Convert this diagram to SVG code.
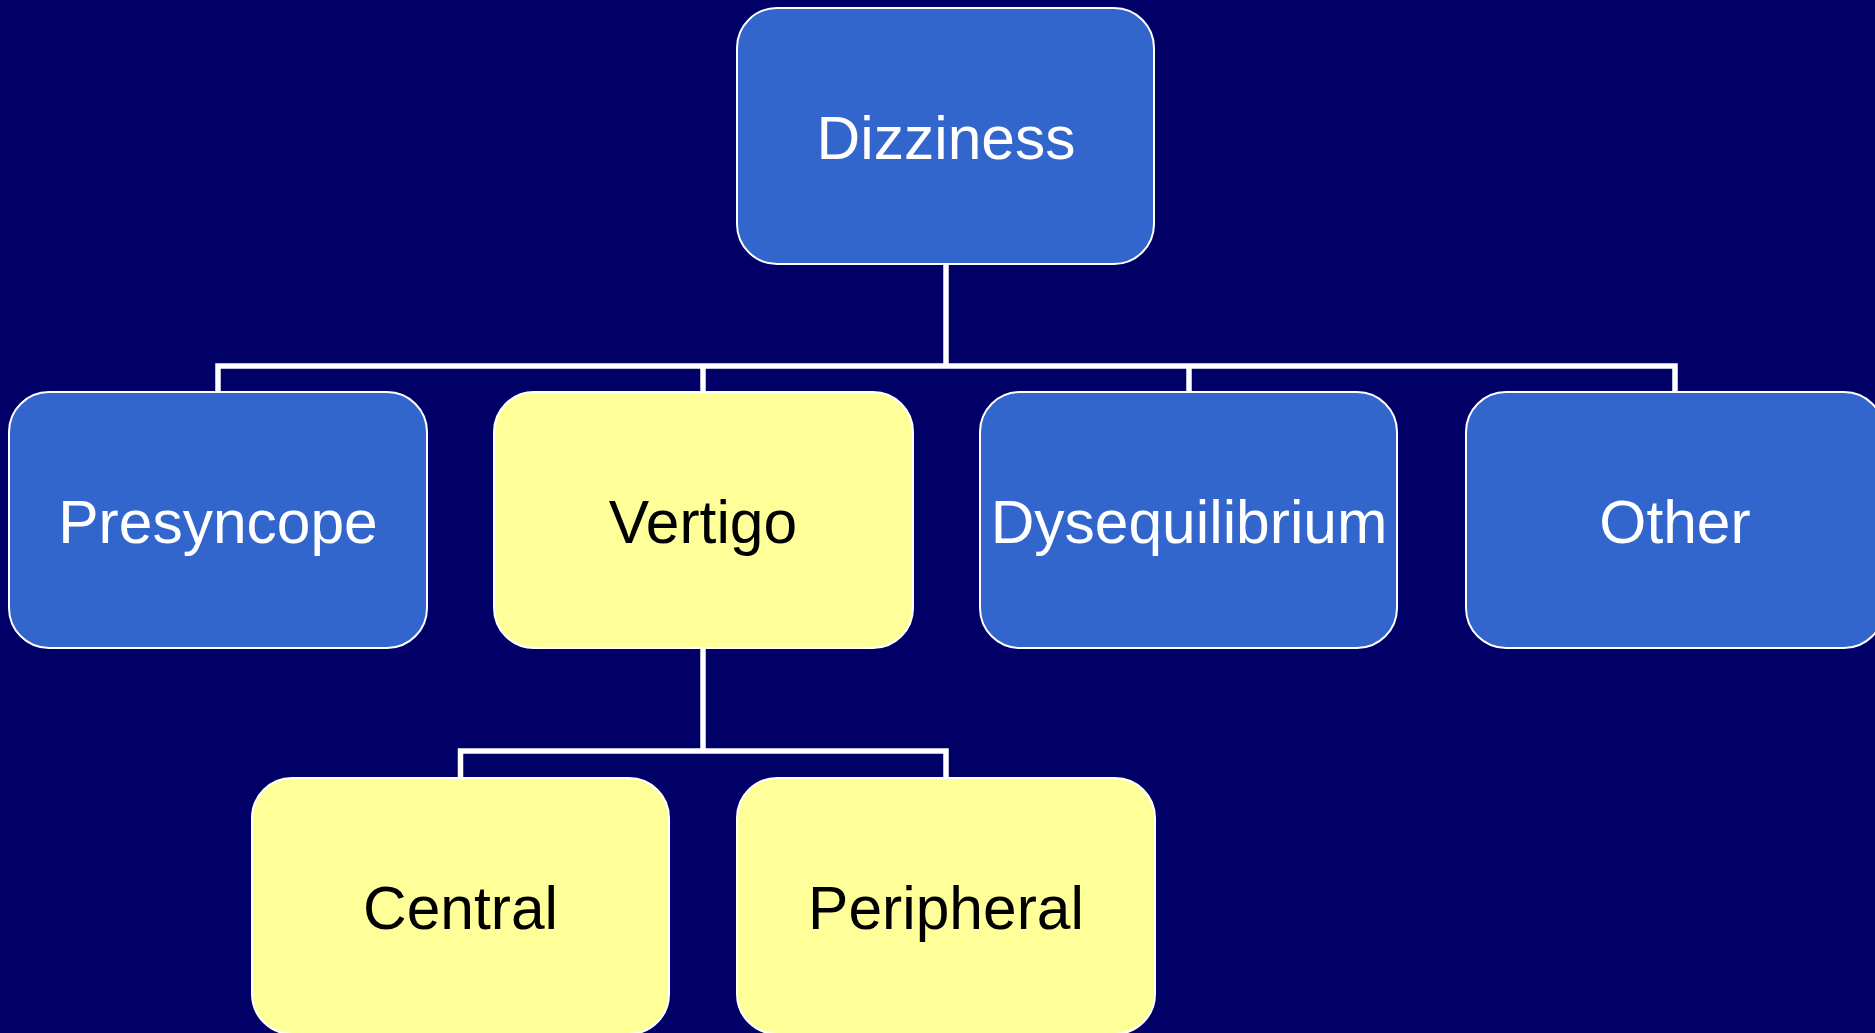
<svg xmlns="http://www.w3.org/2000/svg" width="1875" height="1033" viewBox="0 0 1875 1033">
<style>
  .box rect { stroke: #FFFFFF; stroke-width: 2; }
  .blue rect { fill: #3366CC; }
  .yellow rect { fill: #FFFF99; }
  .box text { font-family: "Liberation Sans", Arial, sans-serif; font-size: 60.5px; text-anchor: middle; }
  .blue text { fill: #FFFFFF; }
  .yellow text { fill: #000000; }
  #connectors path { fill: none; stroke: #FFFFFF; stroke-width: 5.5; stroke-linejoin: miter; }
</style>
<rect x="0" y="0" width="1875" height="1033" fill="#000066"/>
<g id="connectors">
  <path d="M946,264 V366"/>
  <path d="M218,392 V366 H1675 V392"/>
  <path d="M703,392 V366"/>
  <path d="M1189,392 V366"/>
  <path d="M703,648 V751"/>
  <path d="M460.5,778 V751 H946 V778"/>
</g>
<g id="dizziness" class="box blue">
  <rect x="737" y="8" width="417" height="256" rx="40" ry="40"/>
  <text x="946" y="159">Dizziness</text>
</g>
<g id="presyncope" class="box blue">
  <rect x="9" y="392" width="418" height="256" rx="40" ry="40"/>
  <text x="218" y="543">Presyncope</text>
</g>
<g id="vertigo" class="box yellow">
  <rect x="494" y="392" width="419" height="256" rx="40" ry="40"/>
  <text x="703" y="543">Vertigo</text>
</g>
<g id="dysequilibrium" class="box blue">
  <rect x="980" y="392" width="417" height="256" rx="40" ry="40"/>
  <text x="1189" y="543">Dysequilibrium</text>
</g>
<g id="other" class="box blue">
  <rect x="1466" y="392" width="418" height="256" rx="40" ry="40"/>
  <text x="1675" y="543">Other</text>
</g>
<g id="central" class="box yellow">
  <rect x="252" y="778" width="417" height="256" rx="40" ry="40"/>
  <text x="460.5" y="929">Central</text>
</g>
<g id="peripheral" class="box yellow">
  <rect x="737" y="778" width="418" height="256" rx="40" ry="40"/>
  <text x="946" y="929">Peripheral</text>
</g>
</svg>
